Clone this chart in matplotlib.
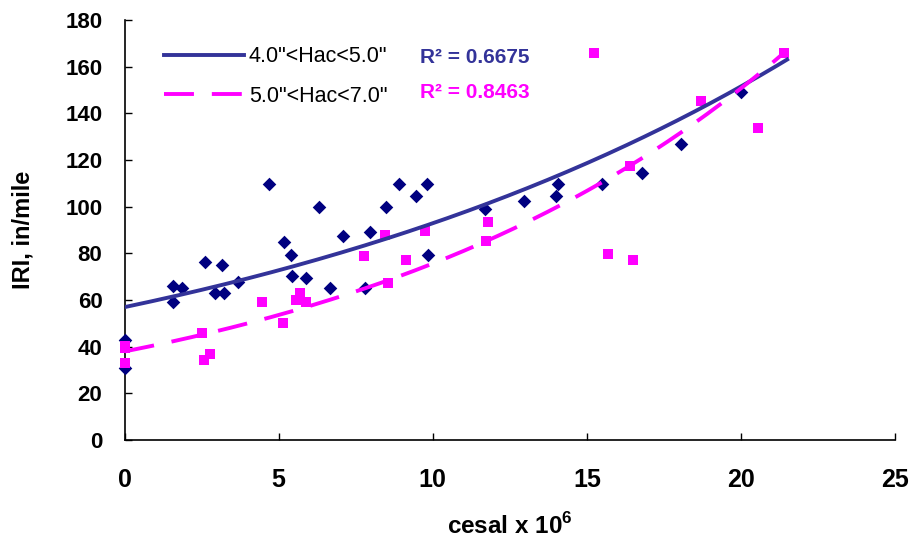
import matplotlib.pyplot as plt
import numpy as np

plt.rcParams['font.family'] = ['Liberation Sans', 'DejaVu Sans']
plt.rcParams['mathtext.fontset'] = 'custom'
plt.rcParams['mathtext.rm'] = 'Liberation Sans:bold'
plt.rcParams['mathtext.bf'] = 'Liberation Sans:bold'

# 4.0"<Hac<5.0" sections
thin_x = [0, 0, 1.56, 1.56, 1.85, 2.6, 2.92, 3.15, 3.21, 3.67,
          4.68, 5.16, 5.39, 5.42, 5.9, 6.3, 6.66, 7.08, 7.79, 7.95,
          8.47, 8.9, 9.45, 9.8, 9.84, 11.69, 12.95, 14.0, 14.06, 15.5,
          16.8, 18.05, 20.0]
thin_y = [42.9, 30.9, 66, 59.3, 65, 76.3, 63, 75, 63, 67.7,
          109.7, 85, 79.3, 70.3, 69.4, 100, 65.1, 87.4, 65.1, 89,
          100, 109.7, 104.6, 109.7, 79.3, 99, 102.4, 104.6, 109.7, 109.7,
          114.4, 127, 149]

# 5.0"<Hac<7.0" sections
thick_x = [0, 0, 0, 2.5, 2.56, 2.76, 4.45, 5.13, 5.55, 5.68,
           5.9, 7.76, 8.44, 8.54, 9.12, 9.74, 11.72, 11.78, 15.23, 15.7,
           16.4, 16.5, 18.7, 20.55, 21.4]
thick_y = [39.4, 40.5, 33, 45.9, 34.3, 36.9, 59.1, 50.2, 60, 63,
           59.1, 78.9, 87.9, 67.3, 77.1, 89.6, 85.3, 93.4, 166, 79.7,
           117.4, 77, 145.3, 133.7, 166]

# exponential trendlines y = a * exp(b * x)
thin_a, thin_b, thin_r2 = 57.0, 0.0489, 0.6675
thick_a, thick_b, thick_r2 = 38.0, 0.0689, 0.8463
trend_xmax = 21.5

navy = '#000080'
line_navy = '#333399'
pink = '#FF00FF'

fig = plt.figure(figsize=(9.1, 5.44), dpi=100)
ax = fig.add_axes([0.137, 0.191, 0.8465, 0.772])

ax.scatter(thin_x, thin_y, marker='D', s=48, color=navy, zorder=3, clip_on=False, linewidths=0)
ax.scatter(thick_x, thick_y, marker='s', s=46, color=pink, zorder=3, clip_on=False, linewidths=0)

tx = np.linspace(0, trend_xmax, 200)
l1, = ax.plot(tx, thin_a * np.exp(thin_b * tx), color=line_navy, lw=2.8, zorder=4)
l2, = ax.plot(tx, thick_a * np.exp(thick_b * tx), color=pink, lw=2.8,
              dashes=(7.7, 4.6), zorder=4)

ax.set_xlim(0, 25)
ax.set_ylim(0, 180)
ax.set_xticks(range(0, 26, 5))
ax.set_yticks(range(0, 181, 20))
for s in ['top', 'right']:
    ax.spines[s].set_visible(False)
for s in ['left', 'bottom']:
    ax.spines[s].set_linewidth(1.2)
ax.tick_params(direction='in', length=5, width=1)
ax.tick_params(axis='x', pad=20, labelsize=18)
ax.tick_params(axis='y', pad=16, labelsize=16)
for lab in ax.get_xticklabels() + ax.get_yticklabels():
    lab.set_fontweight('bold')

ax.set_xlabel(r'cesal x 10$^{\mathbf{6}}$', fontsize=17.5, fontweight='bold', labelpad=15)
ax.set_ylabel('IRI, in/mile', fontsize=17, fontweight='bold', labelpad=22)

leg = ax.legend([l1, l2], ['4.0"<Hac<5.0"', '5.0"<Hac<7.0"'], loc='center left',
                bbox_to_anchor=(0.037, 0.866), frameon=False, fontsize=15.5,
                borderpad=0, handlelength=3.7, handletextpad=0.25, labelspacing=0.85)

ax.text(0.383, 0.912, f'R² = {thin_r2:.4f}', transform=ax.transAxes, color=line_navy,
        fontsize=15, fontweight='bold', va='center')
ax.text(0.383, 0.827, f'R² = {thick_r2:.4f}', transform=ax.transAxes, color=pink,
        fontsize=15, fontweight='bold', va='center')

fig.savefig('out.png', dpi=100)
